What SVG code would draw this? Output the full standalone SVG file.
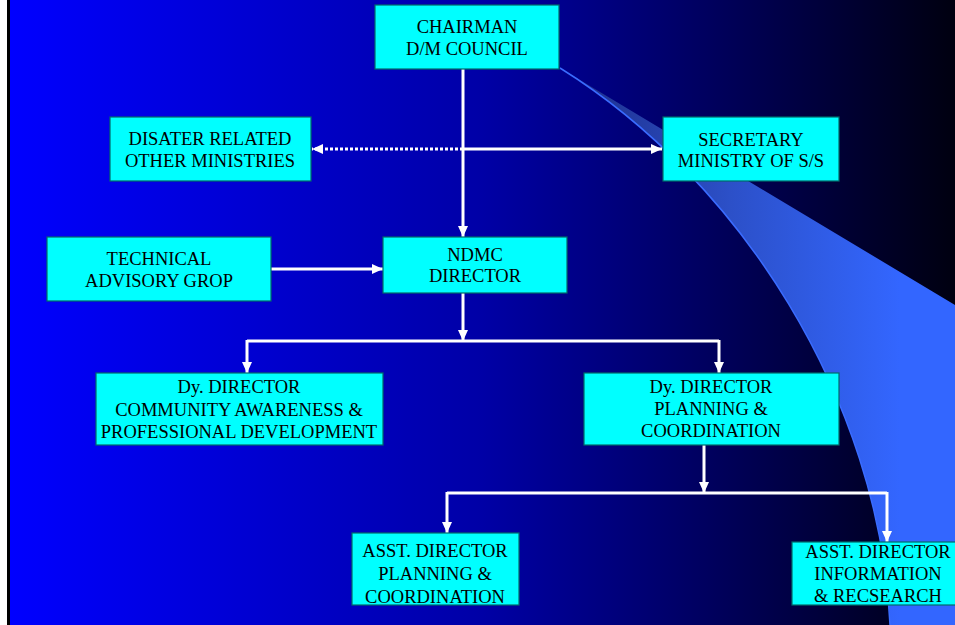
<svg xmlns="http://www.w3.org/2000/svg" width="955" height="625" viewBox="0 0 955 625">
<defs>
<linearGradient id="bg" gradientUnits="userSpaceOnUse" x1="10" y1="0" x2="955" y2="0">
<stop offset="0" stop-color="#0000ff"/>
<stop offset="0.5" stop-color="#0000a6"/>
<stop offset="1" stop-color="#000010"/>
</linearGradient>
<linearGradient id="sw" gradientUnits="userSpaceOnUse" x1="560" y1="0" x2="900" y2="0">
<stop offset="0" stop-color="#1c2c86"/>
<stop offset="0.5" stop-color="#2c50c8"/>
<stop offset="1" stop-color="#3366ff"/>
</linearGradient>
<marker id="ah" markerUnits="userSpaceOnUse" markerWidth="12" markerHeight="10" refX="11" refY="5" orient="auto">
<path d="M0,0 L11,5 L0,10 z" fill="#ffffff"/>
</marker>
</defs>
<style>
.box{fill:#00ffff;stroke:#006a6a;stroke-width:1.2}
.t{font-family:"Liberation Serif","Times New Roman",serif;font-size:18.5px;fill:#000000;text-anchor:middle}
.c{fill:none;stroke:#ffffff;stroke-width:3}
.d{fill:none;stroke:#ffffff;stroke-width:3;stroke-dasharray:3 2}
</style>
<rect x="0" y="0" width="955" height="625" fill="url(#bg)"/>
<path d="M560,68 L955,305 L955,625 L890,625 C880,400 740,180 560,68 z" fill="url(#sw)"/>
<path d="M890,625 C880,400 740,180 560,68" fill="none" stroke="#3a6cff" stroke-width="1.5"/>
<rect x="0" y="0" width="7" height="625" fill="#ffffff"/>
<rect x="7" y="0" width="3" height="625" fill="#000000"/>

<g id="connectors">
<path class="c" d="M463,69 V237" marker-end="url(#ah)"/>
<path class="c" d="M463,149 H662" marker-end="url(#ah)"/>
<path class="d" d="M463,149 H312" marker-end="url(#ah)"/>
<path class="c" d="M271,269 H383" marker-end="url(#ah)"/>
<path class="c" d="M463,293 V341" marker-end="url(#ah)"/>
<path class="c" d="M247,341 H719"/>
<path class="c" d="M247,340 V373" marker-end="url(#ah)"/>
<path class="c" d="M719,340 V373" marker-end="url(#ah)"/>
<path class="c" d="M704,445 V493" marker-end="url(#ah)"/>
<path class="c" d="M447,493 H887"/>
<path class="c" d="M447,492 V533" marker-end="url(#ah)"/>
<path class="c" d="M887,492 V542" marker-end="url(#ah)"/>
</g>

<g id="chairman">
<rect class="box" x="375" y="5" width="184" height="64"/>
<text class="t" x="467" y="33">CHAIRMAN</text>
<text class="t" x="467" y="55">D/M COUNCIL</text>
</g>
<g id="disaster">
<rect class="box" x="110" y="117" width="201" height="64"/>
<text class="t" x="210" y="145">DISATER RELATED</text>
<text class="t" x="210" y="167">OTHER MINISTRIES</text>
</g>
<g id="secretary">
<rect class="box" x="663" y="117" width="176" height="64"/>
<text class="t" x="751" y="146">SECRETARY</text>
<text class="t" x="751" y="167">MINISTRY OF S/S</text>
</g>
<g id="technical">
<rect class="box" x="47" y="237" width="224" height="64"/>
<text class="t" x="159" y="265">TECHNICAL</text>
<text class="t" x="159" y="287">ADVISORY GROP</text>
</g>
<g id="ndmc">
<rect class="box" x="383" y="237" width="184" height="56"/>
<text class="t" x="475" y="261">NDMC</text>
<text class="t" x="475" y="282">DIRECTOR</text>
</g>
<g id="dy-community">
<rect class="box" x="96" y="373" width="287" height="72"/>
<text class="t" x="239" y="393">Dy. DIRECTOR</text>
<text class="t" x="239" y="416">COMMUNITY AWARENESS &amp;</text>
<text class="t" x="239" y="438">PROFESSIONAL DEVELOPMENT</text>
</g>
<g id="dy-planning">
<rect class="box" x="584" y="373" width="255" height="72"/>
<text class="t" x="711" y="393">Dy. DIRECTOR</text>
<text class="t" x="711" y="415">PLANNING &amp;</text>
<text class="t" x="711" y="437">COORDINATION</text>
</g>
<g id="asst-planning">
<rect class="box" x="352" y="533" width="167" height="72"/>
<text class="t" x="435" y="557">ASST. DIRECTOR</text>
<text class="t" x="435" y="580">PLANNING &amp;</text>
<text class="t" x="435" y="603">COORDINATION</text>
</g>
<g id="asst-information">
<rect class="box" x="792" y="542" width="170" height="63"/>
<text class="t" x="878" y="558">ASST. DIRECTOR</text>
<text class="t" x="878" y="580">INFORMATION</text>
<text class="t" x="878" y="602">&amp; RECSEARCH</text>
</g>
</svg>
